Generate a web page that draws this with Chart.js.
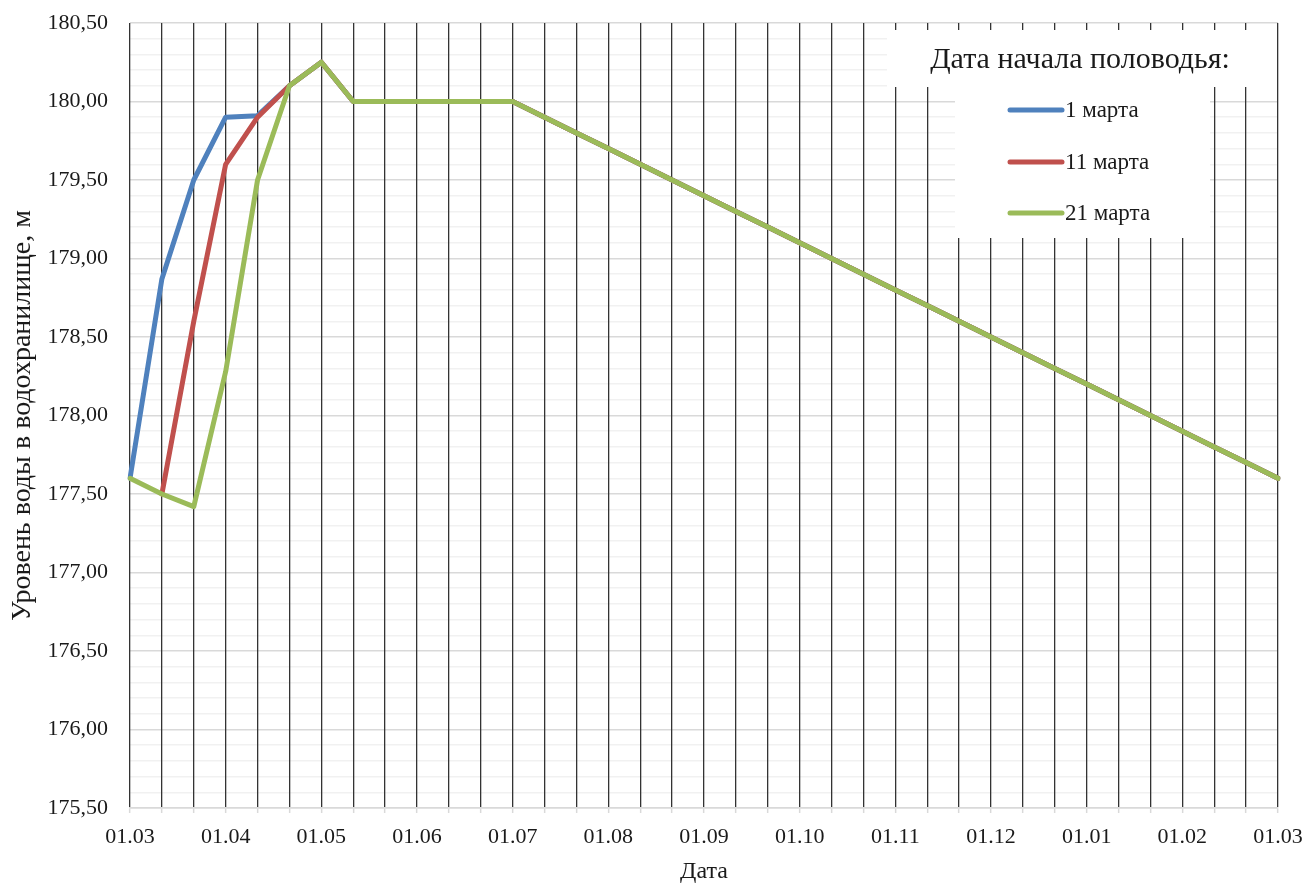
<!DOCTYPE html>
<html lang="ru">
<head>
<meta charset="utf-8">
<title>Уровень воды в водохранилище</title>
<script src="https://cdn.jsdelivr.net/npm/chart.js@4/dist/chart.umd.min.js"></script>
<style>
  html, body { margin: 0; padding: 0; background: #ffffff; }
  #wrap { width: 1306px; height: 886px; position: relative; }
</style>
</head>
<body>
<div id="wrap"><canvas id="chart" width="1306" height="886"></canvas></div>
<script>
// Decade start dates (one point every ten days)
const decades = [
  '01.03','11.03','21.03','01.04','11.04','21.04','01.05','11.05','21.05',
  '01.06','11.06','21.06','01.07','11.07','21.07','01.08','11.08','21.08',
  '01.09','11.09','21.09','01.10','11.10','21.10','01.11','11.11','21.11',
  '01.12','11.12','21.12','01.01','11.01','21.01','01.02','11.02','21.02','01.03'
];

// Reservoir level, m, for each flood start date
const levelMar1 = [
  177.60, 178.87, 179.50, 179.90, 179.91, 180.10, 180.25, 180.00, 180.00,
  180.00, 180.00, 180.00, 180.00, 179.90, 179.80, 179.70, 179.60, 179.50,
  179.40, 179.30, 179.20, 179.10, 179.00, 178.90, 178.80, 178.70, 178.60,
  178.50, 178.40, 178.30, 178.20, 178.10, 178.00, 177.90, 177.80, 177.70, 177.60
];
const levelMar11 = [
  null,   177.50, 178.60, 179.60, 179.90, 180.10, 180.25, 180.00, 180.00,
  180.00, 180.00, 180.00, 180.00, 179.90, 179.80, 179.70, 179.60, 179.50,
  179.40, 179.30, 179.20, 179.10, 179.00, 178.90, 178.80, 178.70, 178.60,
  178.50, 178.40, 178.30, 178.20, 178.10, 178.00, 177.90, 177.80, 177.70, 177.60
];
const levelMar21 = [
  177.60, 177.50, 177.42, 178.28, 179.50, 180.10, 180.25, 180.00, 180.00,
  180.00, 180.00, 180.00, 180.00, 179.90, 179.80, 179.70, 179.60, 179.50,
  179.40, 179.30, 179.20, 179.10, 179.00, 178.90, 178.80, 178.70, 178.60,
  178.50, 178.40, 178.30, 178.20, 178.10, 178.00, 177.90, 177.80, 177.70, 177.60
];

const seriesNames = ['1 марта', '11 марта', '21 марта'];
const legendTitle = 'Дата начала половодья:';
const xTitle = 'Дата';
const yTitle = 'Уровень воды в водохранилище, м';

const SERIF = "'Liberation Serif', 'Times New Roman', serif";
const TEXT = '#1a1a1a';

const isMajor = v => Math.abs(v * 2 - Math.round(v * 2)) < 1e-6;

// Legend box drawn inside the plot, top right
const floodLegend = {
  id: 'floodLegend',
  afterDraw(chart) {
    const ctx = chart.ctx;
    const area = chart.chartArea;
    ctx.save();
    ctx.fillStyle = '#ffffff';
    ctx.fillRect(887, 30, area.right - 1 - 887, 57);
    ctx.fillRect(955, 87, 255, 151);
    ctx.fillStyle = TEXT;
    ctx.font = '30px ' + SERIF;
    ctx.textAlign = 'center';
    ctx.textBaseline = 'alphabetic';
    ctx.fillText(legendTitle, 1080, 68);

    const rows = [110, 162, 213];
    const ds = chart.data.datasets;
    ctx.font = '23px ' + SERIF;
    ctx.textAlign = 'left';
    ctx.textBaseline = 'middle';
    ds.forEach((d, i) => {
      const y = rows[i];
      ctx.strokeStyle = d.borderColor;
      ctx.lineWidth = 5;
      ctx.lineCap = 'round';
      ctx.beginPath();
      ctx.moveTo(1010, y);
      ctx.lineTo(1062, y);
      ctx.stroke();
      ctx.fillStyle = TEXT;
      ctx.fillText(d.label, 1065, y + 1);
    });
    ctx.restore();
  }
};

const lineStyle = color => ({
  borderColor: color,
  backgroundColor: color,
  borderWidth: 5,
  pointRadius: 0,
  pointHoverRadius: 0,
  tension: 0,
  fill: false,
  borderJoinStyle: 'round',
  borderCapStyle: 'round'
});

new Chart(document.getElementById('chart'), {
  type: 'line',
  data: {
    labels: decades,
    datasets: [
      Object.assign({ label: seriesNames[0], data: levelMar1, order: 2 }, lineStyle('#4f81bd')),
      Object.assign({ label: seriesNames[1], data: levelMar11, order: 1 }, lineStyle('#c0504d')),
      Object.assign({ label: seriesNames[2], data: levelMar21, order: 0 }, lineStyle('#9bbb59'))
    ]
  },
  options: {
    responsive: false,
    animation: false,
    devicePixelRatio: 1,
    layout: { padding: { top: 23, right: 28, bottom: 0, left: 0 } },
    plugins: {
      legend: { display: false },
      tooltip: { enabled: false },
      title: { display: false }
    },
    scales: {
      x: {
        type: 'category',
        offset: false,
        afterFit: s => { s.height = 78; s.paddingLeft = 0; s.paddingRight = 0; },
        grid: {
          z: 0,
          color: '#333333',
          lineWidth: 1.3,
          drawTicks: true,
          tickLength: 5,
          tickColor: '#d9d9d9',
          tickWidth: 1.5
        },
        border: { display: true, color: '#d9d9d9', width: 1.5 },
        ticks: {
          autoSkip: false,
          maxRotation: 0,
          minRotation: 0,
          padding: 11,
          color: TEXT,
          font: { family: SERIF, size: 22 },
          callback: (value, index) => decades[index].startsWith('01.') ? decades[index] : ''
        },
        title: {
          display: true,
          text: xTitle,
          color: TEXT,
          font: { family: SERIF, size: 24 },
          padding: { top: 0, bottom: 0 }
        }
      },
      y: {
        type: 'linear',
        min: 175.5,
        max: 180.5,
        afterFit: s => { s.width = 130; s.paddingTop = 0; s.paddingBottom = 0; },
        grid: {
          z: -1,
          drawTicks: false,
          color: ctx => isMajor(ctx.tick.value) ? '#d9d9d9' : '#f1f1f1',
          lineWidth: 1.5
        },
        border: { display: false },
        ticks: {
          stepSize: 0.1,
          autoSkip: false,
          padding: 22,
          color: TEXT,
          font: { family: SERIF, size: 22 },
          callback: v => isMajor(v) ? v.toFixed(2).replace('.', ',') : ''
        },
        title: {
          display: true,
          text: yTitle,
          color: TEXT,
          font: { family: SERIF, size: 28 },
          padding: { top: 6, bottom: 0 }
        }
      }
    }
  },
  plugins: [floodLegend]
});
</script>
</body>
</html>
